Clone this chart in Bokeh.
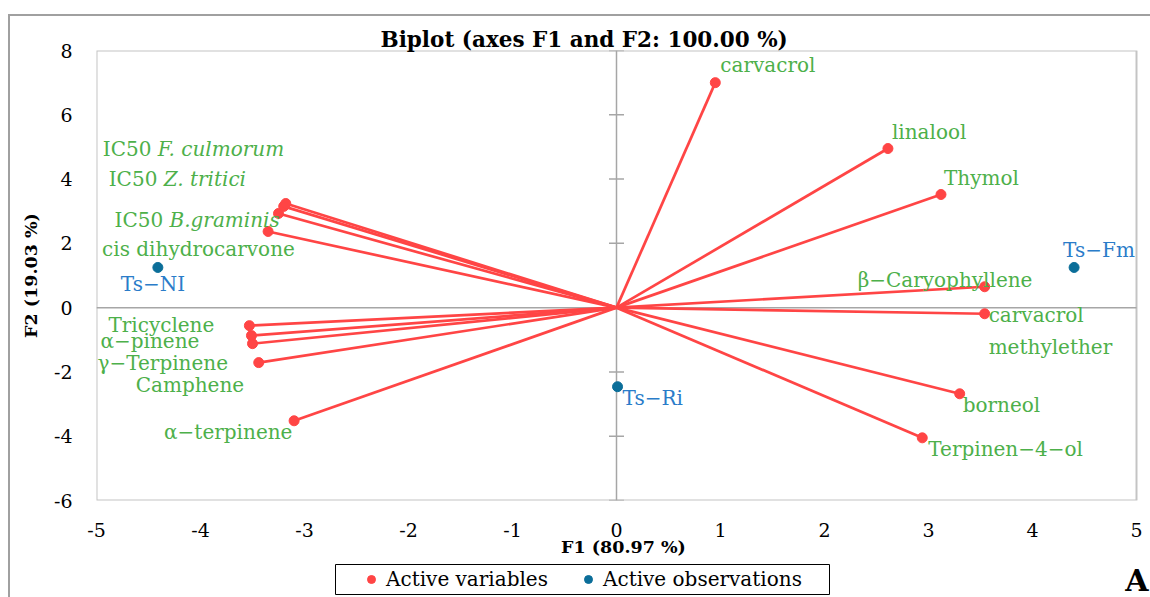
from bokeh.plotting import figure
from bokeh.layouts import column
from bokeh.models import (ColumnDataSource, Range1d, FixedTicker, Legend,
                          LegendItem, Span, CustomJSTickFormatter)
from bokeh.core.properties import value
from bokeh.embed import file_html
from bokeh.resources import INLINE

# ---------------- data ----------------
var_names = ["carvacrol", "linalool", "Thymol", "β−Caryophyllene",
             "carvacrol methylether", "borneol", "Terpinen−4−ol",
             "α−terpinene", "Camphene", "γ−Terpinene", "α−pinene", "Tricyclene",
             "cis dihydrocarvone", "IC50 B.graminis", "IC50 Z. tritici",
             "IC50 F. culmorum"]
var_f1 = [0.95, 2.61, 3.12, 3.54, 3.54, 3.30, 2.94,
          -3.10, -3.44, -3.50, -3.51, -3.53,
          -3.35, -3.25, -3.20, -3.18]
var_f2 = [7.00, 4.95, 3.52, 0.65, -0.19, -2.68, -4.05,
          -3.52, -1.71, -1.12, -0.87, -0.56,
          2.37, 2.93, 3.15, 3.24]

obs_names = ["Ts−NI", "Ts−Fm", "Ts−Ri"]
obs_f1 = [-4.41, 4.40, 0.01]
obs_f2 = [1.25, 1.25, -2.46]

x_limits = [-5, 5]
y_limits = [-6, 8]
x_tick_values = [-5, -4, -3, -2, -1, 0, 1, 2, 3, 4, 5]
y_tick_values = [-6, -4, -2, 0, 2, 4, 6, 8]

title_text = "Biplot (axes F1 and F2: 100.00 %)"
x_title = "F1 (80.97 %)"
y_title = "F2 (19.03 %)"
legend_labels = ["Active variables", "Active observations"]
panel_letter = "A"

# ---------------- label layout (pixel offsets, baseline anchored) ----------------
BL = -8  # baseline correction
var_label_layout = {
    "carvacrol": [("carvacrol", 5, -10, "normal")],
    "linalool": [("linalool", 4, -9, "normal")],
    "Thymol": [("Thymol", 3, -9, "normal")],
    "β−Caryophyllene": [("β−Caryophyllene", -127, 1, "normal")],
    "carvacrol methylether": [("carvacrol", 4, 9, "normal"),
                              ("methylether", 4, 41, "normal")],
    "borneol": [("borneol", 3, 19, "normal")],
    "Terpinen−4−ol": [("Terpinen−4−ol", 6, 19, "normal")],
    "α−terpinene": [("α−terpinene", -130, 19, "normal")],
    "Camphene": [("Camphene", -123, 30, "normal")],
    "γ−Terpinene": [("γ−Terpinene", -155, 27, "normal")],
    "α−pinene": [("α−pinene", -151, 13, "normal")],
    "Tricyclene": [("Tricyclene", -141, 7, "normal")],
    "cis dihydrocarvone": [("cis dihydrocarvone", -166, 26, "normal")],
    "IC50 B.graminis": [("IC50", -164, 15, "normal"), ("B.graminis", -109, 15, "italic")],
    "IC50 Z. tritici": [("IC50", -175, -19, "normal"), ("Z. tritici", -120, -19, "italic")],
    "IC50 F. culmorum": [("IC50", -183, -47, "normal"), ("F. culmorum", -128, -47, "italic")],
}
obs_label_layout = {
    "Ts−NI": (-37, 25),
    "Ts−Fm": (-11, -9),
    "Ts−Ri": (5, 19),
}

RED = "#FF4545"
TEAL = "#0B6E99"
GREEN = "#4DB04A"
BLUE = "#2A7CC9"
FONT = "DejaVu Serif"
GRID_GREY = "#A6A6A6"

OX, OY = 10, 16          # chart area offset inside the page (outer border)
W = 1150 - OX
MAIN_H = 562 - OY
FOOT_H = 597 - 562
FRAME_LEFT = 96
FRAME_RIGHT_REF = 1136
PX_PER_UNIT = (FRAME_RIGHT_REF - FRAME_LEFT) / (x_limits[1] - x_limits[0])
x_view_max = x_limits[1] + (1150 - FRAME_RIGHT_REF) / PX_PER_UNIT

p = figure(width=W, height=MAIN_H, output_backend="svg", toolbar_location=None,
           x_range=Range1d(x_limits[0], x_view_max), y_range=Range1d(*y_limits),
           min_border_left=FRAME_LEFT - OX, min_border_right=0,
           min_border_top=50 - OY, min_border_bottom=562 - 500)
p.grid.visible = False
p.outline_line_color = None
p.background_fill_color = "white"
p.border_fill_color = "white"

p.title.text = title_text
p.title.align = "left"
p.title.offset = 380 - FRAME_LEFT
p.title.text_font = FONT
p.title.text_font_size = "21.5px"
p.title.text_font_style = "bold"
p.title.text_color = "black"
p.title.standoff = -3

# axes
for ax in (p.xaxis[0], p.yaxis[0]):
    ax.axis_line_color = None
    ax.major_tick_line_color = None
    ax.minor_tick_line_color = None
    ax.major_tick_out = 0
    ax.major_tick_in = 0
    ax.major_label_text_font = FONT
    ax.major_label_text_font_size = "19px"
    ax.major_label_text_color = "black"
    ax.axis_label_text_font = FONT
    ax.axis_label_text_font_size = "17.5px"
    ax.axis_label_text_font_style = "bold"
    ax.axis_label_text_color = "black"
    ax.formatter = CustomJSTickFormatter(code="return tick.toFixed(0);")
p.xaxis.ticker = FixedTicker(ticks=x_tick_values)
p.yaxis.ticker = FixedTicker(ticks=y_tick_values)
p.xaxis.major_label_standoff = 22
p.yaxis.major_label_standoff = 24
p.xaxis.axis_label = x_title
p.yaxis.axis_label = y_title
p.xaxis.axis_label_standoff = -3
p.yaxis.axis_label_standoff = 10

# plot-area outline (on the axis limits)
p.quad(left=[x_limits[0]], right=[x_limits[1]], bottom=[y_limits[0]],
       top=[y_limits[1]], fill_alpha=0, line_color="#C4C4C4", line_width=2,
       level="underlay")
# zero lines with ticks on the vertical one
p.add_layout(Span(location=0, dimension="height", line_color=GRID_GREY,
                  line_width=1.5, level="underlay"))
p.segment(x0=[x_limits[0]], y0=[0], x1=[x_limits[1]], y1=[0],
          line_color=GRID_GREY, line_width=1.5, level="underlay")
p.scatter(x=[0] * len(y_tick_values), y=y_tick_values, marker="dash", size=15,
          line_color=GRID_GREY, line_width=1.5, level="underlay")

# variables
vsrc = ColumnDataSource(dict(x0=[0] * len(var_f1), y0=[0] * len(var_f2),
                             f1=var_f1, f2=var_f2, name=var_names))
p.segment(x0="x0", y0="y0", x1="f1", y1="f2", source=vsrc, line_color=RED,
          line_width=2.7)
p.scatter(x="f1", y="f2", source=vsrc, size=10, fill_color=RED, line_color=RED)

# observations
osrc = ColumnDataSource(dict(f1=obs_f1, f2=obs_f2, name=obs_names))
p.scatter(x="f1", y="f2", source=osrc, size=10, fill_color=TEAL, line_color=TEAL)

# point labels
rows = {"normal": dict(x=[], y=[], t=[], dx=[], dy=[]),
        "italic": dict(x=[], y=[], t=[], dx=[], dy=[])}
for n, fx, fy in zip(var_names, var_f1, var_f2):
    for (t, dx, dy, st) in var_label_layout[n]:
        r = rows[st]
        r["x"].append(fx); r["y"].append(fy); r["t"].append(t)
        r["dx"].append(dx); r["dy"].append(dy + BL)
for st, r in rows.items():
    p.text(x="x", y="y", text="t", x_offset="dx", y_offset="dy",
           source=ColumnDataSource(r), text_font=value(FONT),
           text_font_size="20px", text_font_style=st, text_color=GREEN,
           text_align="left", text_baseline="alphabetic")

orows = dict(x=[], y=[], t=[], dx=[], dy=[])
for n, fx, fy in zip(obs_names, obs_f1, obs_f2):
    dx, dy = obs_label_layout[n]
    orows["x"].append(fx); orows["y"].append(fy); orows["t"].append(n)
    orows["dx"].append(dx); orows["dy"].append(dy + BL)
p.text(x="x", y="y", text="t", x_offset="dx", y_offset="dy",
       source=ColumnDataSource(orows), text_font=value(FONT),
       text_font_size="20px", text_color=BLUE, text_align="left",
       text_baseline="alphabetic")

# ---------------- footer: legend and panel letter (page-pixel coordinates) ----------------
f = figure(width=W, height=FOOT_H, output_backend="svg", toolbar_location=None,
           x_range=Range1d(FRAME_LEFT, 1150), y_range=Range1d(597, 562),
           min_border_left=FRAME_LEFT - OX, min_border_right=0,
           min_border_top=0, min_border_bottom=0,
           x_axis_location=None, y_axis_location=None)
f.grid.visible = False
f.outline_line_color = None
f.background_fill_color = "white"
f.border_fill_color = "white"

f.quad(left=[335], right=[829], top=[564], bottom=[594], fill_alpha=0,
       line_color="black", line_width=1)
lr_var = f.scatter(x=[-1000], y=[-1000], size=10, fill_color=RED, line_color=RED)
lr_obs = f.scatter(x=[-1000], y=[-1000], size=10, fill_color=TEAL, line_color=TEAL)
legend = Legend(items=[LegendItem(label=legend_labels[0], renderers=[lr_var]),
                       LegendItem(label=legend_labels[1], renderers=[lr_obs])],
                orientation="horizontal", location=(361 - FRAME_LEFT, 6),
                border_line_alpha=0, background_fill_alpha=0, padding=0,
                margin=0, spacing=30, label_standoff=5, glyph_width=20,
                glyph_height=22, label_text_font=FONT,
                label_text_font_size="20px", label_text_color="black")
f.add_layout(legend, "center")
f.text(x=[1148], y=[588 + BL], text=[panel_letter], text_font=value(FONT),
       text_font_size="30px", text_font_style="bold", text_color="black",
       text_align="right", text_baseline="alphabetic")

layout = column(p, f, spacing=0,
                styles={"margin-left": "8px", "margin-top": "14px",
                        "border-left": "2px solid #A0A0A0",
                        "border-top": "2px solid #A0A0A0"})

open("out.html", "w").write(file_html(layout, INLINE))
